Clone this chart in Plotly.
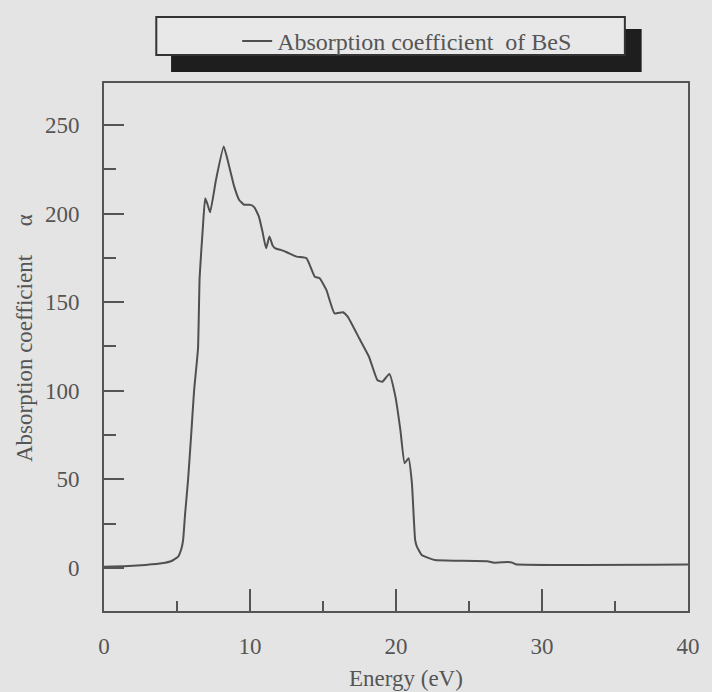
import plotly.graph_objects as go

# ---- data ----
energy = [0, 1.7, 2.83, 3.96, 4.63, 5.08, 5.31, 5.42, 5.55, 5.76, 5.97, 6.17, 6.44, 6.55,
          6.77, 6.93, 7.1, 7.27, 7.67, 8.2, 8.58, 8.92, 9.26, 9.6, 10.04, 10.3, 10.61, 10.85,
          11.1, 11.33, 11.55, 11.73, 12.1, 12.52, 13.2, 13.87, 14.44, 14.77, 15.23, 15.79,
          16.36, 16.69, 17.48, 18.15, 18.72, 19.06, 19.55, 19.96, 20.3, 20.59, 20.86, 21.09,
          21.31, 21.43, 21.76, 21.99, 22.66, 24.0, 24.47, 26.27, 26.72, 27.62, 27.96, 28.19, 40]
alpha = [0.7, 1.1, 1.7, 2.6, 3.9, 6.4, 11.1, 15.8, 30, 50, 75, 100, 124, 164,
         192, 208.6, 205, 200.7, 219, 237.8, 226.5, 215.2, 207.7, 205, 204.9, 203.5, 198.3, 190,
         180.4, 187, 182, 180.4, 179.5, 178.2, 175.7, 174.8, 164.4, 163.5, 156.9, 143.7,
         144.3, 141.8, 129.6, 119.2, 106.1, 105.1, 109.5, 96.7, 77.9, 59.1, 61.9, 47.8,
         15.8, 12, 7.3, 6.4, 4.5, 4.1, 4.1, 3.8, 3.0, 3.4, 3.0, 2.1, 1.9]

x_ticks = [0, 10, 20, 30, 40]
y_ticks = [0, 50, 100, 150, 200, 250]
series_name = "Absorption coefficient\u00a0\u00a0of BeS"
x_title = "Energy (eV)"
y_title = "Absorption coefficient\u00a0\u00a0\u00a0\u00a0\u00a0α"

BG = "#e4e4e4"
INK = "#505050"
FONT = "Liberation Serif, Times New Roman, serif"

W, H = 712, 692
ML, MR, MT, MB = 104, 16, 83, 81
PW = W - ML - MR
PH = H - MT - MB


def px_x(p):
    return (p - ML) / PW


def px_y(p):
    return (H - MB - p) / PH


fig = go.Figure()
fig.add_trace(go.Scatter(
    x=energy, y=alpha, mode="lines", name=series_name,
    line=dict(color=INK, width=2, shape="spline", smoothing=0.4),
))

axis_common = dict(
    showgrid=False, zeroline=False, showline=True, mirror=True,
    linecolor="#555555", linewidth=2,
    ticks="inside", tickcolor="#555555", tickwidth=2,
    tickfont=dict(family=FONT, size=23, color="#555555"),
)

fig.update_xaxes(
    range=[0, 40], tickvals=x_ticks, ticklen=22, ticklabelstandoff=13,
    minor=dict(dtick=5, tick0=0, ticks="inside", ticklen=10, tickcolor="#555555", tickwidth=2),
    **axis_common,
)
fig.update_yaxes(
    range=[-24.3, 273.7], tickvals=y_ticks, ticklen=20, ticklabelstandoff=18,
    minor=dict(dtick=25, tick0=0, ticks="inside", ticklen=12, tickcolor="#555555", tickwidth=2),
    **axis_common,
)

# legend box with drop shadow
shapes = [
    dict(type="rect", xref="paper", yref="paper",
         x0=px_x(172), x1=px_x(649), y0=px_y(72), y1=px_y(29),
         fillcolor="#1e1e1e", line=dict(width=0), layer="above"),
    dict(type="rect", xref="paper", yref="paper",
         x0=px_x(157), x1=px_x(632), y0=px_y(55), y1=px_y(17),
         fillcolor="#e8e8e8", line=dict(color="#333333", width=2), layer="above"),
]

annotations = [
    dict(text=x_title, xref="paper", yref="paper", x=px_x(410), y=px_y(678),
         xanchor="center", yanchor="middle", showarrow=False,
         font=dict(family=FONT, size=23, color="#555555")),
    dict(text=y_title, xref="paper", yref="paper", x=px_x(23), y=px_y(338),
         xanchor="center", yanchor="middle", showarrow=False, textangle=-90,
         font=dict(family=FONT, size=23, color="#555555")),
]

fig.update_layout(
    width=W, height=H,
    margin=dict(l=ML, r=MR, t=MT, b=MB),
    paper_bgcolor=BG, plot_bgcolor=BG,
    showlegend=True,
    legend=dict(x=px_x(239), y=px_y(19), xanchor="left", yanchor="top",
                bgcolor="rgba(0,0,0,0)", borderwidth=0,
                font=dict(family=FONT, size=24, color="#555555")),
    shapes=shapes, annotations=annotations,
)

fig.write_html("out.html")
